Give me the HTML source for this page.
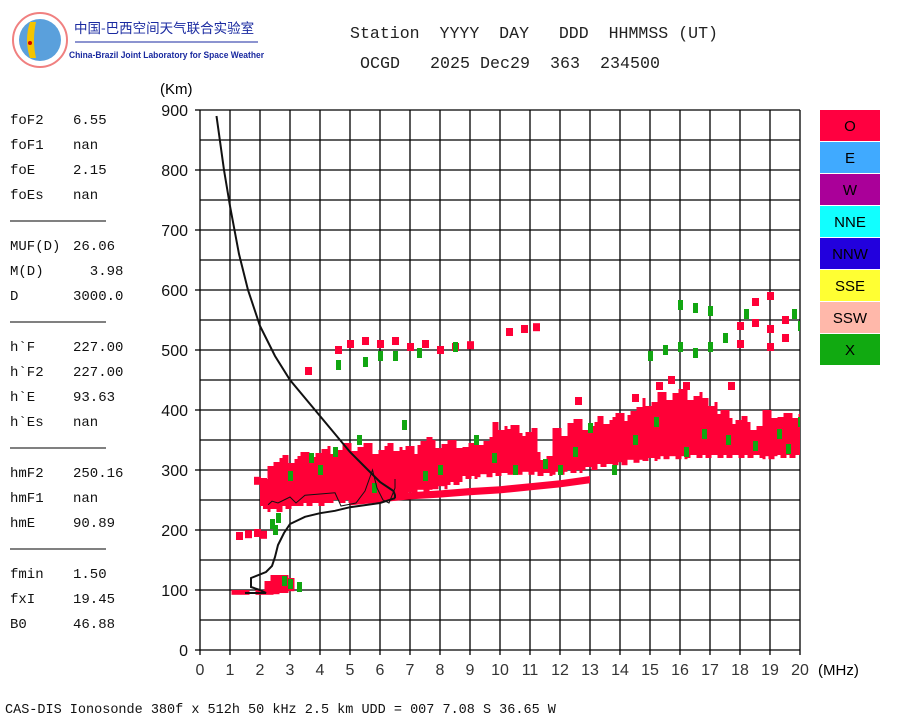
<!DOCTYPE html>
<html><head><meta charset="utf-8"><style>
body{margin:0;background:#fff;width:900px;height:720px;overflow:hidden;font-family:"Liberation Mono","Noto Sans CJK SC",monospace}
svg{position:absolute;left:0;top:0}
</style></head><body>
<svg id="c" width="900" height="720" xmlns="http://www.w3.org/2000/svg">
<defs><clipPath id="plotclip"><rect x="200" y="100" width="600" height="550"/></clipPath></defs>
<g>
<circle cx="40" cy="40" r="27" fill="#fff" stroke="#f08080" stroke-width="2"/>
<circle cx="40" cy="40" r="21" fill="#5aa0dc"/>
<path d="M30 22 Q24 40 30 58 L36 58 Q32 40 36 22Z" fill="#f5c400"/>
<circle cx="30" cy="43" r="2" fill="#c00"/>
<text x="74" y="33" font-family="'Noto Sans CJK SC',sans-serif" font-size="13.5" fill="#1a2aa0">中国-巴西空间天气联合实验室</text>
<line x1="75" y1="42" x2="258" y2="42" stroke="#1a2aa0" stroke-width="1"/>
<text x="69" y="58" font-family="'Liberation Sans',sans-serif" font-size="9" font-weight="bold" fill="#1a2aa0" textLength="195" lengthAdjust="spacingAndGlyphs">China-Brazil Joint Laboratory for Space Weather</text>
</g>
<text x="350" y="38" font-size="16.5" fill="#222" xml:space="preserve" textLength="368" lengthAdjust="spacingAndGlyphs">Station  YYYY  DAY   DDD  HHMMSS (UT)</text>
<text x="360" y="68" font-size="16.5" fill="#222" xml:space="preserve" textLength="300" lengthAdjust="spacingAndGlyphs">OCGD   2025 Dec29  363  234500</text>
<text x="5" y="713" font-size="13.5" fill="#111">CAS-DIS Ionosonde 380f x 512h 50 kHz 2.5 km UDD = 007 7.08 S 36.65 W</text>
<text x="160" y="94" font-family="'Liberation Sans',sans-serif" font-size="15">(Km)</text>
<text x="818" y="675" font-family="'Liberation Sans',sans-serif" font-size="15">(MHz)</text>
<g id="params" font-size="14" fill="#111"></g>
<g id="grid"></g>
<g id="echo" clip-path="url(#plotclip)"></g>
<g id="curves"></g>
<g id="legend"></g>
</svg>
<script>
const bandFreq=[2.25,2.5,3,3.5,4,4.5,5,5.5,6,6.5,7,7.5,8,8.5,9,9.5,10,10.5,11,11.5,12,12.5,13,13.5,14,14.5,15,15.5,16,16.5,17,17.5,18,18.5,19,19.5,20];
const bandLow=[235,230,235,240,240,245,245,245,248,250,258,262,268,275,285,288,290,292,292,290,292,295,300,305,308,312,315,318,318,320,320,320,320,320,318,320,320];
const bandHigh=[285,320,325,330,335,340,345,345,340,345,340,355,350,350,345,355,380,375,370,330,370,385,380,390,395,405,420,430,435,430,420,400,390,380,400,395,400];
const traceFreq=[5,6,7,8,9,10,11,12,13];
const traceH=[245,250,255,258,262,265,270,275,282];
const redSpots=[[4.6,500],[5,510],[5.5,515],[6,510],[6.5,515],[7,505],[7.5,510],[8,500],[8.5,505],[9,508],[10.3,530],[10.8,535],[11.2,538],[18,540],[18.5,545],[19,535],[19.5,550],[18.5,580],[19,590],[19.5,520],[18,510],[19,505],[1.3,190],[1.6,193],[1.9,195],[2.1,192],[1.9,282],[2.1,280],[3.6,465],[12.6,415],[14.5,420],[15.3,440],[15.7,450],[16.2,440],[17.7,440]];
const greenSpots=[[4.6,475],[5.5,480],[6,490],[6.5,490],[7.3,495],[8.5,505],[15,490],[15.5,500],[16,505],[16.5,495],[17,505],[17.5,520],[16,575],[16.5,570],[17,565],[18.2,560],[19.8,560],[20,540],[2.4,210],[2.6,220],[2.5,200],[3.3,105],[3,110],[2.8,115],[3.7,320],[4.5,330],[5.3,350],[6.8,375],[8,300],[9.2,350],[10.5,300],[11.5,310],[12.5,330],[13,370],[13.8,300],[14.5,350],[15.2,380],[16.2,330],[16.8,360],[17.6,350],[18.5,340],[19.3,360],[19.6,335],[20,380],[7.5,290],[4,300],[3,290],[5.8,270],[9.8,320],[12,300]];
const eFreq=[1.2,1.5,2,2.3,2.5,2.8,3];
const eLow=[92,92,92,92,93,95,98];
const eHigh=[100,100,100,115,125,125,120];
const upperCurveF=[0.55,0.8,1.0,1.3,1.6,2.0,2.5,3.0,3.5,4.0,4.5,5,5.5,6,6.3,6.45,6.5,6.5];
const upperCurveH=[890,800,740,660,600,540,490,450,420,390,360,330,305,280,270,265,258,253];
const lowerCurveF=[6.5,6,5,4.5,4,3.5,3,2.8,2.6,2.5,2.4,2.2,1.7,1.7,2.0,2.2,1.5];
const lowerCurveH=[253,245,238,232,228,222,210,195,175,155,140,130,120,105,100,95,95];
const thinF=[2.27,2.4,2.6,2.8,3.0,3.2,3.5,4.0,4.5,4.7,5.2,5.5,5.75,5.9,6.1,6.3,6.5,6.5];
const thinH=[242,248,245,250,255,245,258,260,262,240,245,265,300,270,250,245,270,285];
const xTicks=[0,1,2,3,4,5,6,7,8,9,10,11,12,13,14,15,16,17,18,19,20];
const yTicks=[0,100,200,300,400,500,600,700,800,900];
const legendLabels=["O","E","W","NNE","NNW","SSE","SSW","X"];
const legendColors=["#ff0040","#40aaff","#aa0099","#11ffff","#2200dd","#ffff33","#ffb8aa","#11aa11"];
const paramLabels=[["foF2","6.55"],["foF1","nan"],["foE","2.15"],["foEs","nan"],null,["MUF(D)","26.06"],["M(D)","  3.98"],["D","3000.0"],null,["h`F","227.00"],["h`F2","227.00"],["h`E","93.63"],["h`Es","nan"],null,["hmF2","250.16"],["hmF1","nan"],["hmE","90.89"],null,["fmin","1.50"],["fxI","19.45"],["B0","46.88"]];

const NS="http://www.w3.org/2000/svg";
const X=f=>200+f*30, Y=h=>650-h*0.6;
function mk(t,a,p){const e=document.createElementNS(NS,t);for(const k in a)e.setAttribute(k,a[k]);p.appendChild(e);return e;}
const grid=document.getElementById('grid');
for(let h=0;h<=900;h+=50){const l=mk('line',{x1:200,x2:800,y1:Y(h),y2:Y(h),stroke:'#000','stroke-width':1.3},grid);

}
xTicks.forEach(f=>{const l=mk('line',{x1:X(f),x2:X(f),y1:Y(900),y2:Y(0)+5,stroke:'#000','stroke-width':1.3},grid);


const t=mk('text',{x:X(f),y:675,'text-anchor':'middle','font-family':'Liberation Sans,sans-serif','font-size':16,fill:'#333'},grid);t.textContent=f;

});
yTicks.forEach(h=>{const l=mk('line',{x1:195,x2:200,y1:Y(h),y2:Y(h),stroke:'#000','stroke-width':1.3},grid);
const t=mk('text',{x:188,y:Y(h)+6,'text-anchor':'end','font-family':'Liberation Sans,sans-serif','font-size':16,fill:'#111'},grid);t.textContent=h;

});

const echo=document.getElementById('echo');
const RED='#ff0037',GRN='#11a611';
function strips(f1,f2,l,h,col,name,jit){
  for(let x=X(f1);x<X(f2);x+=3){
    const k=Math.round(x)%7;
    let top=Y(h)+(jit?(k%3)*4:0), bot=Y(l)-(jit?(k%2)*3:0);
    if(bot-top<3){top=Y(h);bot=Y(l);}
    const r=mk('rect',{x:x,y:top,width:3,height:Math.max(3,bot-top),fill:col},echo);
    
    
  }}
for(let i=0;i<bandFreq.length;i++){const f=bandFreq[i];strips(f-0.25,f+0.25,bandLow[i],bandHigh[i],RED,'o-echo-column',true);}
for(let i=0;i<traceFreq.length-1;i++){const p=mk('polygon',{points:`${X(traceFreq[i])},${Y(traceH[i]+8)} ${X(traceFreq[i+1])},${Y(traceH[i+1]+8)} ${X(traceFreq[i+1])},${Y(traceH[i+1]-4)} ${X(traceFreq[i])},${Y(traceH[i]-4)}`,fill:RED},echo);

}
for(let i=0;i<eFreq.length;i++){strips(eFreq[i]-0.15,eFreq[i]+0.15,eLow[i],eHigh[i],RED,'e-echo',false);}
redSpots.forEach(s=>{const r=mk('rect',{x:X(s[0])-3,y:Y(s[1])-4,width:7,height:8,fill:RED},echo);

});
greenSpots.forEach(s=>{const r=mk('rect',{x:X(s[0])-2,y:Y(s[1])-5,width:5,height:10,fill:GRN},echo);

});

const cv=document.getElementById('curves');
function poly(F,H,w,name){const p=mk('polyline',{points:F.map((f,i)=>X(f)+','+Y(H[i])).join(' '),fill:'none',stroke:'#111','stroke-width':w},cv);

}
poly(upperCurveF,upperCurveH,2,'profile-upper');
poly(lowerCurveF,lowerCurveH,2,'profile-lower');
poly(thinF,thinH,1,'trace-line');

const lg=document.getElementById('legend');
legendLabels.forEach((n,i)=>{const y=110+i*32;const r=mk('rect',{x:820,y:y,width:60,height:31,fill:legendColors[i]},lg);


const t=mk('text',{x:850,y:y+21,'text-anchor':'middle','font-family':'Liberation Sans,sans-serif','font-size':15,fill:'#000'},lg);t.textContent=n;});

const pg=document.getElementById('params');let y=124;
paramLabels.forEach(p=>{if(!p){mk('line',{x1:10,x2:106,y1:y-3,y2:y-3,stroke:'#000','stroke-width':1},pg);y+=26;return;}
const a=mk('text',{x:10,y:y},pg);a.textContent=p[0];


const b=mk('text',{x:73,y:y},pg);b.setAttribute('style','white-space:pre');b.textContent=p[1];

y+=25;});
</script>
</body></html>
